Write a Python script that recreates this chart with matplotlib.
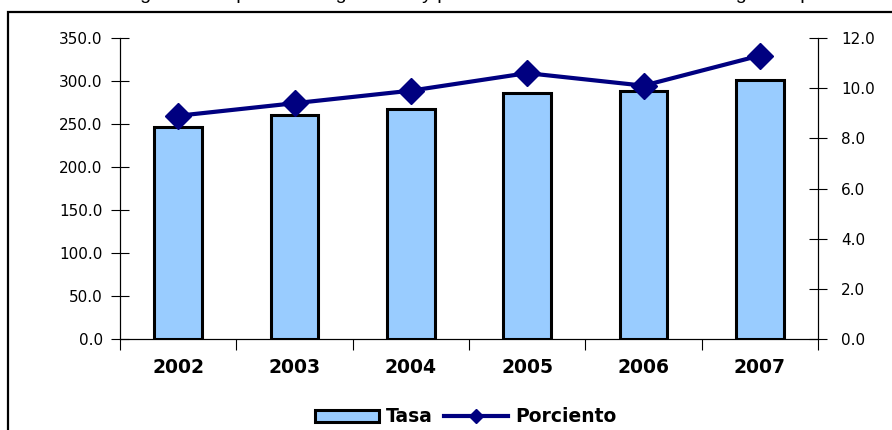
import matplotlib
matplotlib.use("Agg")
import matplotlib.pyplot as plt
from matplotlib.patches import Rectangle
from matplotlib.ticker import FormatStrFormatter
import numpy as np

# values
years = ["2002", "2003", "2004", "2005", "2006", "2007"]
tasa = [246.0, 260.0, 267.0, 286.0, 288.0, 301.0]
porciento = [8.9, 9.4, 9.9, 10.6, 10.1, 11.3]

title = "Tasa de egresos hospitalarios ingresados y porcientos de la tasa del total de egresos por"

plt.rcParams['font.family'] = ['DejaVu Sans']

W, H = 892, 430
fig = plt.figure(figsize=(W / 100, H / 100), dpi=100)

# plot area, in pixels of the reference
left, right, top, bottom = 120, 818, 38, 339
ax = fig.add_axes([left / W, 1 - bottom / H, (right - left) / W, (bottom - top) / H])

x = np.arange(len(years))
bars = ax.bar(x, tasa, width=0.41, color='#99CCFF', edgecolor='black',
              linewidth=2.2, zorder=2, label='Tasa')
ax.set_xlim(-0.5, len(years) - 0.5)
ax.set_ylim(0, 350)
ax.set_yticks(np.arange(0, 351, 50))
ax.yaxis.set_major_formatter(FormatStrFormatter('%.1f'))
ax.tick_params(axis='y', direction='inout', length=13, width=0.8, pad=6, labelsize=11)

# years as labels, category boundaries as tick marks
ax.set_xticks(x)
ax.set_xticklabels(years, fontsize=13.5, fontweight='bold')
ax.tick_params(axis='x', which='major', length=0, pad=14)
ax.set_xticks(np.arange(-0.5, len(years), 1.0), minor=True)
ax.tick_params(axis='x', which='minor', direction='out', length=8, width=0.8)

ax2 = ax.twinx()
line, = ax2.plot(x, porciento, color='#000080', lw=3, marker='D', ms=13.5,
                 label='Porciento', zorder=3)
ax2.set_ylim(0, 12)
ax2.set_yticks(np.arange(0, 13, 2))
ax2.yaxis.set_major_formatter(FormatStrFormatter('%.1f'))
ax2.tick_params(axis='y', direction='inout', length=13, width=0.8, pad=10, labelsize=11)

for a in (ax, ax2):
    a.spines['top'].set_visible(False)
    for s in ('left', 'right', 'bottom'):
        a.spines[s].set_linewidth(0.8)

fig.legend([bars, line], ['Tasa', 'Porciento'], loc='center',
           bbox_to_anchor=(466 / W, 1 - 417 / H), ncol=2, frameon=False,
           prop={'weight': 'bold', 'size': 13.5}, handlelength=3.4,
           handleheight=0.65, markerscale=0.55, columnspacing=0.6,
           handletextpad=0.4)

# outer chart frame, cut by the picture edges
fig.add_artist(Rectangle((7.5 / W, -0.05), 1.2, 1.05 - 12 / H, transform=fig.transFigure,
                         fill=False, lw=1.6, edgecolor='black', clip_on=False))

# title, mostly outside the picture (cut in the reference too)
fig.text(55 / W, 1 + 1 / H, title, fontsize=14, family='Liberation Sans',
         va='baseline', ha='left')

fig.savefig('out.png', dpi=100)
